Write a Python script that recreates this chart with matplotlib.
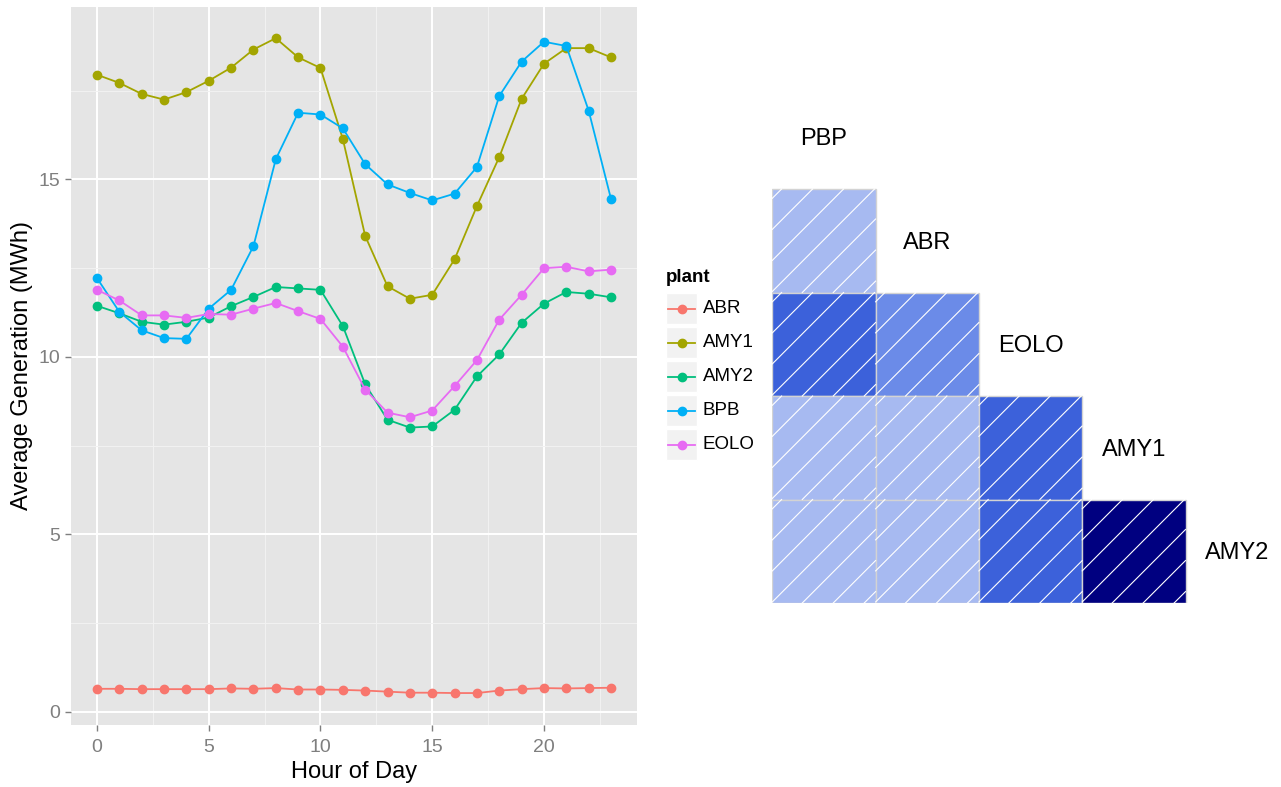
import matplotlib
matplotlib.use("Agg")
import matplotlib.pyplot as plt
import numpy as np
from matplotlib.colors import LinearSegmentedColormap
from matplotlib.patches import Rectangle
from matplotlib.lines import Line2D

plt.rcParams['font.family'] = ['Liberation Sans', 'DejaVu Sans']

# hourly averages per plant (MWh)
hours = list(range(24))
plants = ["ABR", "AMY1", "AMY2", "BPB", "EOLO"]
colours = ["#F8766D", "#A3A500", "#00BF7D", "#00B0F6", "#E76BF3"]

abr = [0.65, 0.65, 0.64, 0.64, 0.64, 0.64, 0.66, 0.65, 0.67, 0.63, 0.63, 0.62,
       0.60, 0.57, 0.54, 0.54, 0.53, 0.53, 0.60, 0.64, 0.67, 0.66, 0.67, 0.68]
amy1 = [17.95, 17.72, 17.41, 17.25, 17.46, 17.78, 18.15, 18.66, 18.98, 18.44, 18.14, 16.14,
        13.41, 11.99, 11.64, 11.75, 12.75, 14.25, 15.63, 17.27, 18.26, 18.70, 18.70, 18.44]
amy2 = [11.44, 11.23, 10.99, 10.91, 10.99, 11.11, 11.43, 11.69, 11.97, 11.93, 11.89, 10.87,
        9.23, 8.23, 8.01, 8.04, 8.51, 9.45, 10.07, 10.96, 11.50, 11.83, 11.78, 11.68]
bpb = [12.22, 11.27, 10.75, 10.53, 10.51, 11.36, 11.89, 13.12, 15.57, 16.88, 16.83, 16.44,
       15.43, 14.86, 14.62, 14.41, 14.60, 15.35, 17.35, 18.32, 18.88, 18.76, 16.94, 14.45]
eolo = [11.89, 11.59, 11.17, 11.17, 11.10, 11.21, 11.19, 11.36, 11.52, 11.29, 11.07, 10.29,
        9.08, 8.43, 8.30, 8.49, 9.18, 9.91, 11.05, 11.75, 12.50, 12.54, 12.41, 12.46]
series = [abr, amy1, amy2, bpb, eolo]

# correlations, lower triangle (row i against the columns before it)
corr_vars = ["PBP", "ABR", "EOLO", "AMY1", "AMY2"]
corr_lower = [[0.2],
              [0.5, 0.35],
              [0.2, 0.2, 0.5],
              [0.2, 0.2, 0.5, 0.9]]

W, H = 1281, 787
fig = plt.figure(figsize=(W / 100, H / 100), dpi=100)

# ---- line chart
ax = fig.add_axes([71.3 / W, 1 - 725 / H, 565.4 / W, 718.4 / H])
ax.set_facecolor("#E5E5E5")
for s in ax.spines.values():
    s.set_visible(False)
for vals, c in zip(series, colours):
    ax.plot(hours, vals, color=c, lw=1.3, marker="o", ms=6, zorder=3)
ax.set_xlim(-1.15, 24.15)
ax.set_ylim(-0.37, 19.87)
ax.set_xticks([0, 5, 10, 15, 20])
ax.set_yticks([0, 5, 10, 15])
ax.set_xticks([2.5, 7.5, 12.5, 17.5, 22.5], minor=True)
ax.set_yticks([2.5, 7.5, 12.5, 17.5], minor=True)
ax.set_axisbelow(True)
ax.grid(which="major", color="white", lw=1.4)
ax.grid(which="minor", color="#F2F2F2", lw=0.7)
ax.tick_params(which="major", length=4, width=1, color="#7F7F7F",
               labelcolor="#7F7F7F", labelsize=14, pad=4)
ax.tick_params(axis="x", which="major", pad=6)
ax.tick_params(which="minor", length=0)
ax.set_xlabel("Hour of Day", fontsize=17, labelpad=4)
ax.set_ylabel("Average Generation (MWh)", fontsize=17, labelpad=4)

# ---- legend drawn in pixel space
ov = fig.add_axes([0, 0, 1, 1])
ov.set_xlim(0, W)
ov.set_ylim(H, 0)
ov.axis("off")
ov.patch.set_alpha(0)
ov.text(666, 278, "plant", fontsize=13.5, fontweight="bold", va="center", ha="left")
for k, (name, c) in enumerate(zip(plants, colours)):
    y0 = 293 + 34 * k
    ov.add_patch(Rectangle((666, y0), 31, 31, facecolor="#F2F2F2", edgecolor="white", lw=1))
    yc = y0 + 15.5
    ov.add_line(Line2D([668, 695], [yc, yc], color=c, lw=1.3))
    ov.add_line(Line2D([681.5], [yc], color=c, marker="o", ms=6))
    ov.text(703, yc, name, fontsize=13.5, va="center", ha="left")

# ---- correlation shading
pal_map = LinearSegmentedColormap.from_list(
    "shade", ["red", "salmon", "white", "royalblue", "navy"])
ncol = 14
pal = [pal_map(i / (ncol - 1)) for i in range(ncol)]
breaks = np.linspace(-1, 1, ncol + 1)

cx = fig.add_axes([772.3 / W, 1 - 603 / H, 516.5 / W, 517.5 / H])
cx.set_xlim(0, 5)
cx.set_ylim(5, 0)
cx.axis("off")
hatch_offsets = np.arange(-0.89, 1.0, 0.3)
for i, row in enumerate(corr_lower, start=1):
    for j, r in enumerate(row):
        idx = min(np.searchsorted(breaks, r, side="left") - 1, ncol - 1)
        idx = max(idx, 0)
        cx.add_patch(Rectangle((j, i), 1, 1, facecolor=pal[idx],
                               edgecolor="#D3D3D3", lw=1, zorder=1))
        for c in hatch_offsets:
            u0, u1 = max(0, -c), min(1, 1 - c)
            xs = [j + u0, j + u1]
            ys = [i + 1 - (u0 + c), i + 1 - (u1 + c)]
            cx.add_line(Line2D(xs, ys, color="white", lw=0.8, zorder=2))
for k, name in enumerate(corr_vars):
    cx.text(k + 0.5, k + 0.5 + 0.02, name, fontsize=17, ha="center", va="center", clip_on=False)

fig.savefig("out.png", dpi=100)
